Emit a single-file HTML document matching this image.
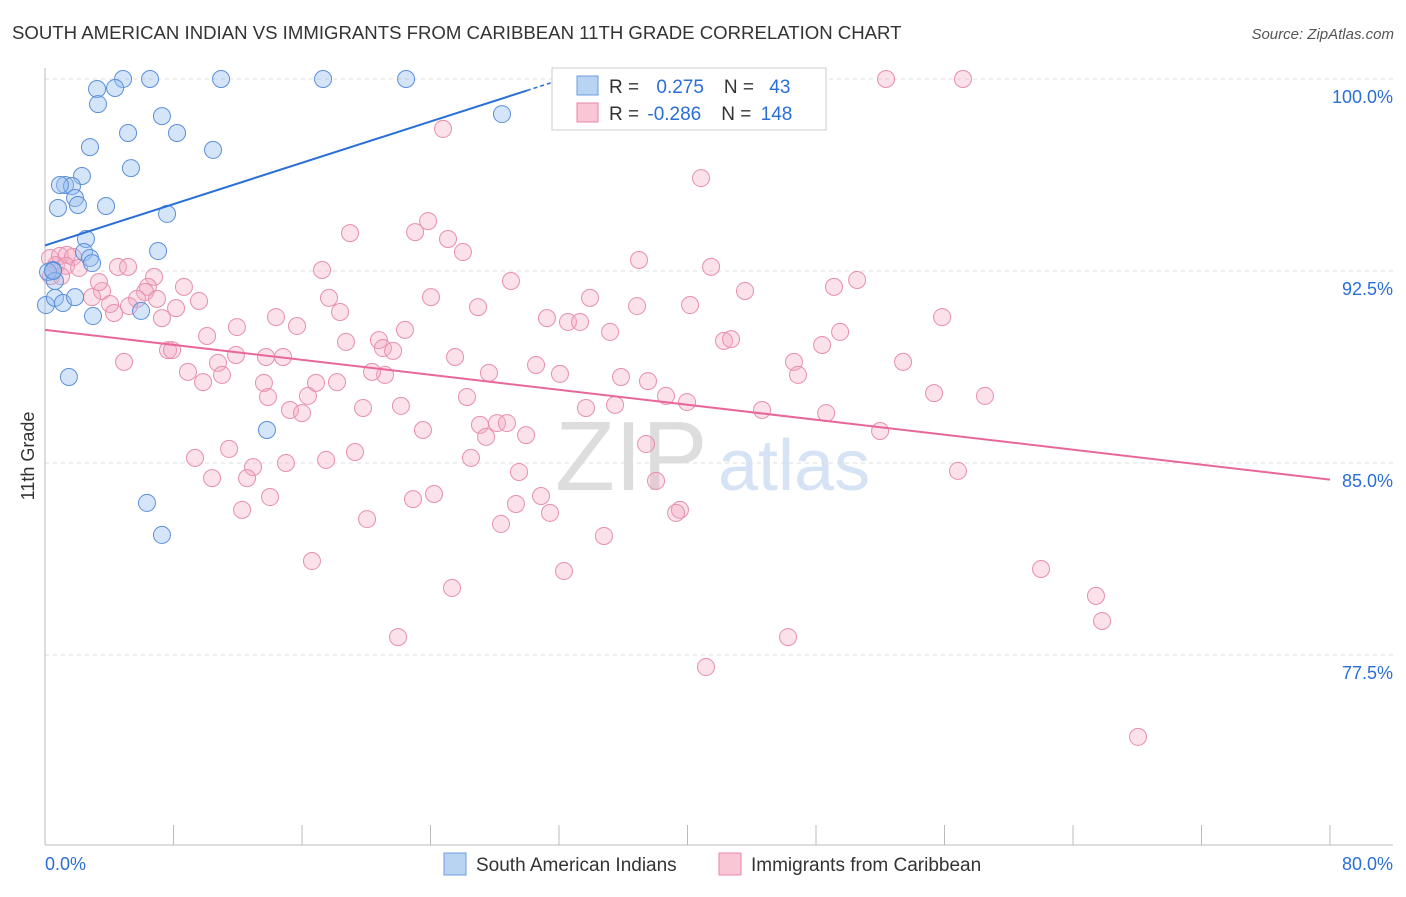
<!DOCTYPE html>
<html><head><meta charset="utf-8"><style>
body{margin:0;background:#fff;font-family:"Liberation Sans",sans-serif}
svg text{font-family:"Liberation Sans",sans-serif}
</style></head><body>
<svg id="c" width="1406" height="892">
<text x="12" y="39" font-size="18.6" fill="#333">SOUTH AMERICAN INDIAN VS IMMIGRANTS FROM CARIBBEAN 11TH GRADE CORRELATION CHART</text>
<text x="1394" y="39" font-size="15" fill="#555" text-anchor="end" font-style="italic">Source: ZipAtlas.com</text>
<text x="555" y="490" font-size="98" fill="#ddd" font-family="Liberation Serif">ZIP</text>
<text x="718" y="490" font-size="72" fill="#d6e3f5">atlas</text>
<text x="34" y="456" font-size="18" fill="#333" text-anchor="middle" transform="rotate(-90 34 456)">11th Grade</text>
<g id="grid"></g><g id="pts"></g><g id="lines"></g>
<g>
<rect x="552" y="68" width="274" height="62" fill="#fff" stroke="#ccc"/>
<rect x="577" y="76" width="21" height="19" fill="#b9d3f3" stroke="#6a9be0"/>
<rect x="577" y="103" width="21" height="19" fill="#f9c6d5" stroke="#e887a7"/>
<text x="609" y="93" font-size="19" fill="#333">R = <tspan fill="#2a6fd6" dx="12">0.275</tspan><tspan dx="20">N = </tspan><tspan fill="#2a6fd6" dx="10">43</tspan></text>
<text x="609" y="120" font-size="19" fill="#333">R = <tspan fill="#2a6fd6" dx="3">-0.286</tspan><tspan dx="20">N = </tspan><tspan fill="#2a6fd6" dx="4">148</tspan></text>
</g>
<g>
<rect x="444" y="853" width="22" height="22" fill="#b9d3f3" stroke="#6a9be0"/>
<text x="476" y="871" font-size="19" fill="#333">South American Indians</text>
<rect x="719" y="853" width="22" height="22" fill="#f9c6d5" stroke="#e887a7"/>
<text x="751" y="871" font-size="19" fill="#333">Immigrants from Caribbean</text>
</g>
<text x="45" y="870" font-size="18" fill="#2a6fd6">0.0%</text>
<text x="1393" y="870" font-size="18" fill="#2a6fd6" text-anchor="end">80.0%</text>
</svg>
<script>
const yTicks=[100,92.5,85,77.5];
const yTickLabels=["100.0%","92.5%","85.0%","77.5%"];
const xTicks=[0,8,16,24,32,40,48,56,64,72,80];
const blueX=[3.24,4.86,6.54,10.96,17.31,22.48,4.36,3.30,7.28,28.45,5.17,8.22,2.80,10.46,5.35,2.30,1.25,1.68,1.87,3.80,0.81,2.05,7.60,2.55,7.04,2.43,2.80,2.93,0.50,0.19,0.62,0.06,0.62,1.12,1.87,5.98,2.99,1.49,13.82,6.35,7.28,0.50,0.93];
const blueY=[99.61,100,100,100,100,100,99.65,99.02,98.55,98.63,97.89,97.89,97.34,97.23,96.52,96.21,95.86,95.82,95.35,95.04,94.96,95.08,94.73,93.75,93.28,93.24,93.01,92.81,92.54,92.46,92.11,91.17,91.45,91.25,91.48,90.94,90.74,88.36,86.29,83.44,82.19,92.5,95.86];
const pinkX=[52.36,57.15,24.78,40.84,23.85,23.04,18.99,25.09,26.02,36.98,17.25,29.01,41.47,50.56,49.12,43.58,33.93,24.03,17.68,26.96,36.86,40.16,55.85,31.25,32.56,33.31,14.38,15.69,11.95,18.37,22.41,35.18,49.50,42.27,42.71,48.38,18.74,20.79,21.04,21.67,10.09,25.53,30.57,53.42,46.63,46.88,32.06,27.64,21.17,20.36,35.86,37.54,26.27,38.66,39.97,55.35,58.52,22.16,19.80,15.25,16.00,13.88,16.37,16.87,18.18,13.63,44.64,48.63,33.68,35.49,27.08,28.14,28.76,23.53,27.46,29.95,51.99,37.42,11.46,9.34,17.50,19.30,26.52,12.95,15.00,10.40,12.58,29.51,56.84,38.04,14.01,22.91,24.22,30.88,29.32,12.27,20.05,31.44,28.39,39.53,39.29,34.80,16.62,32.31,62.01,25.34,65.43,65.81,21.98,46.26,41.15,68.05,0.31,0.93,1.37,1.74,0.68,1.31,2.12,0.37,1.00,4.54,5.17,6.79,8.65,6.41,6.23,5.73,3.55,2.93,4.05,6.97,9.59,8.16,4.30,7.28,3.36,5.23,4.92,7.66,7.91,11.89,10.77,8.90,9.84,11.02,13.76,14.82];
const pinkY=[100,100,98.05,96.13,94.45,94.02,93.98,93.75,93.24,92.93,92.54,92.11,92.66,92.15,91.88,91.72,91.45,91.48,91.45,91.09,91.13,91.17,90.70,90.66,90.51,90.51,90.70,90.35,90.31,90.90,90.20,90.12,90.12,89.77,89.84,89.61,89.73,89.80,89.49,89.38,89.96,89.14,88.83,88.95,88.95,88.44,88.48,88.52,88.44,88.56,88.36,88.20,87.58,87.62,87.38,87.73,87.62,87.23,87.15,87.07,86.95,87.58,87.62,88.13,88.16,88.13,87.07,86.95,87.15,87.27,86.49,86.56,86.56,86.29,86.02,86.09,86.25,85.74,85.55,85.20,85.12,85.43,85.20,84.84,85.00,84.41,84.41,84.65,84.69,84.30,83.67,83.59,83.79,83.71,83.40,83.17,82.81,83.05,82.62,83.17,83.05,82.15,81.17,80.78,80.86,80.12,79.81,78.83,78.20,78.20,77.03,74.30,93.01,93.09,93.13,93.05,92.73,92.70,92.62,92.30,92.30,92.66,92.66,92.27,91.88,91.88,91.68,91.41,91.72,91.48,91.21,91.41,91.33,91.05,90.86,90.66,92.07,91.13,88.95,89.41,89.41,89.22,88.91,88.56,88.16,88.44,89.14,89.14];
const blueTrend=[0,93.5,30,99.55];
const pinkTrend=[0,90.2,80,84.35];
const NS="http://www.w3.org/2000/svg";
const X=v=>45+v/80*1285, Y=v=>79+(100-v)*25.6;
function mk(p,t,a){const e=document.createElementNS(NS,t);for(const k in a)e.setAttribute(k,a[k]);p.appendChild(e);return e;}
const g=document.getElementById('grid');
yTicks.forEach((t,i)=>{
 const l=mk(g,'line',{x1:45,x2:1393,y1:Y(t),y2:Y(t),stroke:'#ddd','stroke-dasharray':'4 4'});
 
 
 const tx=mk(g,'text',{x:1393,y:Y(t)+24,'font-size':18,fill:'#2a6fd6','text-anchor':'end'});
 tx.textContent=yTickLabels[i];
 
 
});
mk(g,'line',{x1:45,x2:45,y1:68,y2:845,stroke:'#bbb'});
mk(g,'line',{x1:45,x2:1393,y1:845,y2:845,stroke:'#bbb'});
xTicks.forEach(t=>{
 const l=mk(g,'line',{x1:X(t),x2:X(t),y1:825,y2:845,stroke:'#bbb'});
 
 
});
const p=document.getElementById('pts');
pinkX.forEach((x,i)=>{
 const c=mk(p,'circle',{cx:X(x),cy:Y(pinkY[i]),r:8.5,fill:'rgba(244,170,195,0.35)',stroke:'#e78fad','stroke-width':1});
 
 
});
blueX.forEach((x,i)=>{
 const c=mk(p,'circle',{cx:X(x),cy:Y(blueY[i]),r:8.5,fill:'rgba(150,190,240,0.4)',stroke:'#5b8fd9','stroke-width':1});
 
 
});
const L=document.getElementById('lines');
const bl=mk(L,'line',{x1:X(blueTrend[0]),y1:Y(blueTrend[1]),x2:X(blueTrend[2]),y2:Y(blueTrend[3]),stroke:'#2a6fd6','stroke-width':2});


const slope=(blueTrend[3]-blueTrend[1])/(blueTrend[2]-blueTrend[0]);
const bd=mk(L,'line',{x1:X(blueTrend[2]),y1:Y(blueTrend[3]),x2:X(32),y2:Y(blueTrend[1]+slope*32),stroke:'#2a6fd6','stroke-width':1.5,'stroke-dasharray':'4 3'});


const pl=mk(L,'line',{x1:X(pinkTrend[0]),y1:Y(pinkTrend[1]),x2:X(pinkTrend[2]),y2:Y(pinkTrend[3]),stroke:'#e8679a','stroke-width':2});


</script>
</body></html>
